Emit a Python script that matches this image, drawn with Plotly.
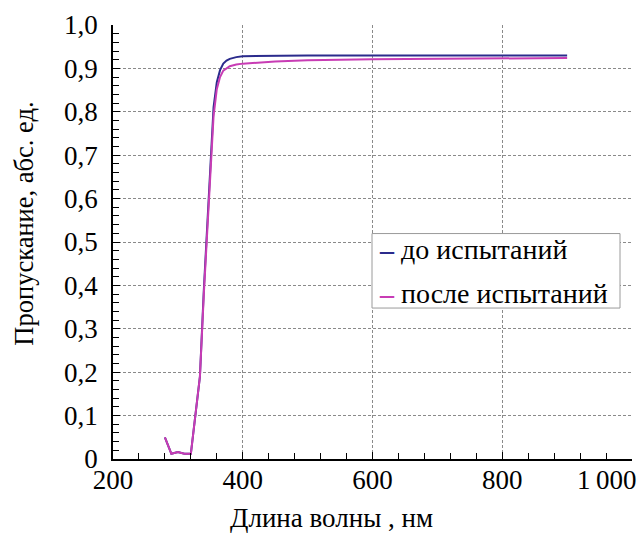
import plotly.graph_objects as go

# Data
wavelength = [280, 290, 300, 310, 320, 327, 334, 340, 345, 350, 355, 360, 365, 370, 375, 380, 390, 400, 450, 500, 600, 700, 800, 900]
before_test = [0.05, 0.012, 0.016, 0.012, 0.012, 0.10, 0.19, 0.39, 0.53, 0.69, 0.81, 0.868, 0.896, 0.911, 0.918, 0.922, 0.926, 0.928, 0.929, 0.930, 0.930, 0.930, 0.930, 0.930]
after_test = [0.05, 0.012, 0.016, 0.012, 0.012, 0.10, 0.19, 0.38, 0.52, 0.67, 0.79, 0.852, 0.880, 0.895, 0.901, 0.905, 0.909, 0.911, 0.916, 0.919, 0.921, 0.922, 0.923, 0.924]

series_names = ["до испытаний", "после испытаний"]
series_colors = ["#2b2b8c", "#c83cb4"]

x_tickvals = [200, 400, 600, 800, 1000]
x_ticktext = ["200", "400", "600", "800", "1\u2009000"]
y_tickvals = [0, 0.1, 0.2, 0.3, 0.4, 0.5, 0.6, 0.7, 0.8, 0.9, 1.0]
y_ticktext = ["0", "0,1", "0,2", "0,3", "0,4", "0,5", "0,6", "0,7", "0,8", "0,9", "1,0"]

x_title = "Длина волны , нм"
y_title = "Пропускание, абс. ед."

FONT = "Liberation Serif, DejaVu Serif, serif"
FS = 27

fig = go.Figure()
for name, ys, col in zip(series_names, [before_test, after_test], series_colors):
    fig.add_trace(go.Scatter(x=wavelength, y=ys, mode="lines", name=name,
                             line=dict(color=col, width=2), showlegend=False))

axis_common = dict(
    showline=True, linecolor="black", linewidth=1.5, mirror=False,
    ticks="inside", ticklen=7, tickcolor="black", tickwidth=1,
    showgrid=True, gridcolor="#8a8a8a", gridwidth=1, griddash="3px,2px",
    zeroline=False,
    tickfont=dict(family=FONT, size=FS, color="black"),
)

# last x label is drawn separately (shifted left to stay inside the page, as in the reference)
fig.update_xaxes(range=[200, 1000], tickvals=x_tickvals, ticktext=x_ticktext[:-1] + [""],
                 minor=dict(dtick=40, tick0=200, ticks="inside", ticklen=6, tickcolor="black", showgrid=False),
                 ticklabelstandoff=-4,
                 **axis_common)
fig.update_yaxes(range=[0, 1.0], tickvals=y_tickvals, ticktext=y_ticktext,
                 minor=dict(dtick=0.02, tick0=0, ticks="inside", ticklen=6, tickcolor="black", showgrid=False),
                 ticklabelstandoff=8,
                 **axis_common)

# plot area pixels: x 113..632, y 22..459
W, H = 642, 533
L, R, T, B = 113, 10, 22, 74
pw, ph = W - L - R, H - T - B

def px(xp):
    return (xp - L) / pw

def py(yp):
    return (H - B - yp) / ph

annotations = [
    dict(text=x_title, x=px(331), y=py(518), xref="paper", yref="paper",
         xanchor="center", yanchor="middle", showarrow=False,
         font=dict(family=FONT, size=FS, color="black")),
    dict(text=y_title, x=px(24), y=py(222), xref="paper", yref="paper",
         xanchor="center", yanchor="middle", showarrow=False, textangle=-90,
         font=dict(family=FONT, size=26.5, color="black")),
    dict(text=x_ticktext[-1], x=x_tickvals[-1], xref="x", y=0, yref="paper",
         xanchor="right", yanchor="top", xshift=6, yshift=-4, showarrow=False,
         font=dict(family=FONT, size=FS, color="black")),
]
for i, (name, col) in enumerate(zip(series_names, series_colors)):
    annotations.append(dict(
        text=f'<span style="color:{col}"><b>\u2013</b></span> {name}',
        x=px(377), y=py(248 + 44 * i), xref="paper", yref="paper",
        xanchor="left", yanchor="middle", showarrow=False,
        font=dict(family=FONT, size=28, color="black")))

fig.add_shape(type="rect", xref="paper", yref="paper",
              x0=px(372), x1=px(620), y0=py(307), y1=py(232),
              line=dict(color="#9a9a9a", width=1), fillcolor="white", layer="above")

fig.update_layout(
    width=W, height=H,
    margin=dict(l=L, r=R, t=T, b=B, pad=0),
    paper_bgcolor="white", plot_bgcolor="white",
    annotations=annotations,
    font=dict(family=FONT, color="black"),
)

fig.write_html("out.html", config={"displayModeBar": False},
               post_script="document.body.style.margin='0';document.body.style.overflow='hidden';")
